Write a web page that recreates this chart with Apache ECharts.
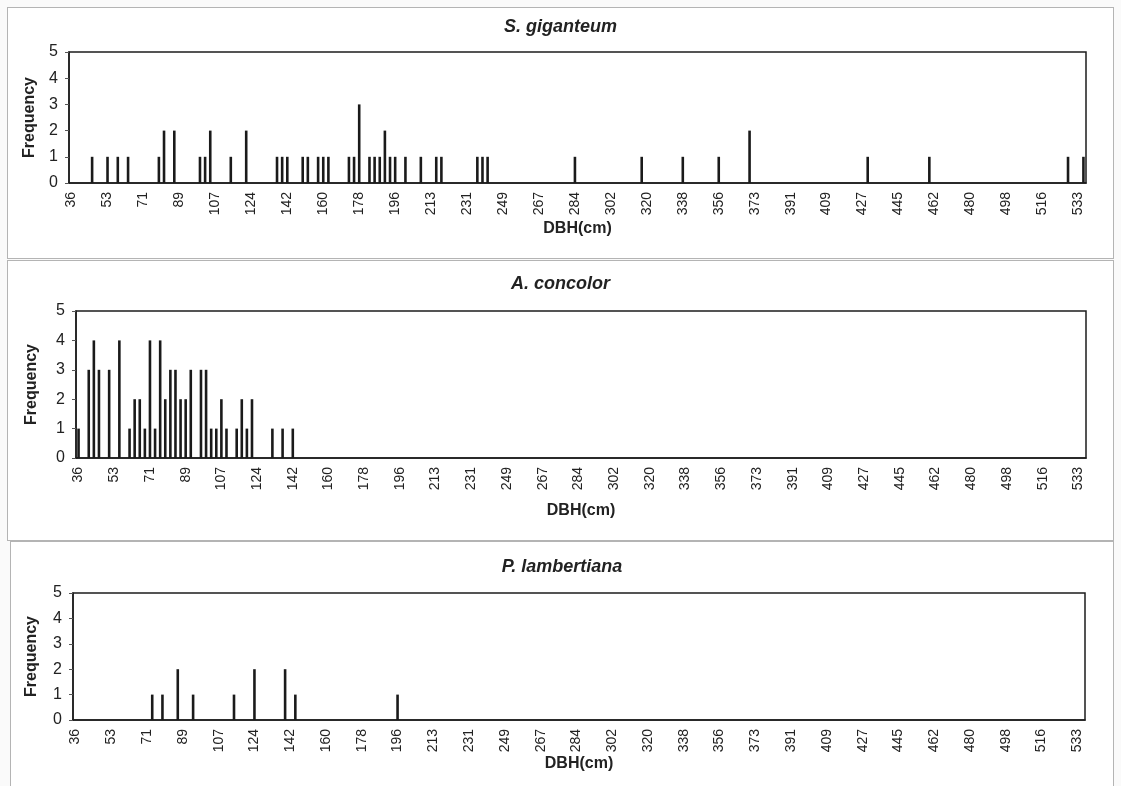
<!DOCTYPE html>
<html>
<head>
<meta charset="utf-8">
<script src="https://cdn.jsdelivr.net/npm/echarts/dist/echarts.min.js"></script>
<style>
  html, body { margin: 0; padding: 0; background: #fafafa; }
  body { width: 1121px; height: 786px; position: relative; overflow: hidden; }
  .panel { position: absolute; background: #fff; border: 1px solid #b4b4b4; box-sizing: border-box; }
</style>
</head>
<body>
<div id="p1" class="panel" style="left:7px;top:7px;width:1107px;height:252px;"></div>
<div id="p2" class="panel" style="left:7px;top:260px;width:1107px;height:281px;"></div>
<div id="p3" class="panel" style="left:10px;top:541px;width:1104px;height:250px;"></div>
<script>
// DBH classes are whole inches, shown in cm on the axis
var inchFrom = 14;
var inchTo = 211;
var dbhCats = [];
for (var i = inchFrom; i <= inchTo; i++) {
  dbhCats.push(String(Math.round(i * 254 / 100)));
}

// S. giganteum
var sgDbh  = [46, 53, 58, 64, 79, 81, 86, 99, 102, 104, 114, 122, 137, 140, 142, 150, 152, 157, 160, 163,
              173, 175, 178, 183, 185, 188, 191, 193, 196, 201, 208, 216, 218, 236, 239, 241, 284, 318, 338,
              356, 371, 429, 460, 528, 536];
var sgFreq = [1, 1, 1, 1, 1, 2, 2, 1, 1, 2, 1, 2, 1, 1, 1, 1, 1, 1, 1, 1,
              1, 1, 3, 1, 1, 1, 2, 1, 1, 1, 1, 1, 1, 1, 1, 1, 1, 1, 1,
              1, 2, 1, 1, 1, 1];

// A. concolor
var acDbh  = [36, 41, 43, 46, 51, 56, 61, 64, 66, 69, 71, 74, 76, 79, 81, 84, 86, 89, 91, 97, 99, 102,
              104, 107, 109, 114, 117, 119, 122, 132, 137, 142];
var acFreq = [1, 3, 4, 3, 3, 4, 1, 2, 2, 1, 4, 1, 4, 2, 3, 3, 2, 2, 3, 3, 3, 1,
              1, 2, 1, 1, 2, 1, 2, 1, 1, 1];

// P. lambertiana
var plDbh  = [74, 79, 86, 94, 114, 124, 140, 145, 196];
var plFreq = [1, 1, 2, 1, 1, 2, 2, 1, 1];

var yTicks = [0, 1, 2, 3, 4, 5];

function toSeries(dbh, freq) {
  return dbhCats.map(function (c) {
    var idx = dbh.indexOf(Number(c));
    return idx >= 0 ? freq[idx] : 0;
  });
}

var font = "'Liberation Sans', Arial, sans-serif";

function buildOption(cfg) {
  return {
    animation: false,
    title: {
      text: cfg.title,
      left: 'center',
      top: cfg.titleTop,
      textStyle: { fontFamily: font, fontSize: 18, fontWeight: 'bold', fontStyle: 'italic', color: '#222' }
    },
    grid: {
      left: cfg.left, top: cfg.top, width: cfg.width, height: cfg.height,
      show: true, borderColor: '#1c1c1c', borderWidth: 1.5, backgroundColor: '#fff'
    },
    xAxis: [{
      type: 'category',
      data: dbhCats,
      name: 'DBH(cm)',
      nameLocation: 'middle',
      nameGap: cfg.xNameGap,
      nameMoveOverlap: false,
      nameTextStyle: { fontFamily: font, fontSize: 16, fontWeight: 'bold', color: '#222' },
      axisLine: { lineStyle: { color: '#1c1c1c', width: 1.5 } },
      axisTick: { interval: 0, length: 3, lineStyle: { color: '#777' } },
      axisLabel: { interval: 6, rotate: 90, margin: 9, fontFamily: font, fontSize: 14, color: '#222' }
    }, {
      // inner half of the cross tick marks
      type: 'category',
      data: dbhCats,
      position: 'bottom',
      axisLine: { show: false },
      axisTick: { inside: true, interval: 0, length: 3, lineStyle: { color: '#777' } },
      axisLabel: { show: false }
    }],
    yAxis: {
      type: 'value',
      min: yTicks[0],
      max: yTicks[yTicks.length - 1],
      interval: 1,
      name: 'Frequency',
      nameLocation: 'middle',
      nameGap: cfg.yNameGap,
      nameTextStyle: { fontFamily: font, fontSize: 16, fontWeight: 'bold', color: '#222' },
      axisLine: { show: true, lineStyle: { color: '#1c1c1c', width: 1.5 } },
      axisTick: { show: true, length: 4, lineStyle: { color: '#555' } },
      axisLabel: { margin: 11, fontFamily: font, fontSize: 16, color: '#222' },
      splitLine: { show: false }
    },
    series: [{
      type: 'bar',
      xAxisIndex: 0,
      data: toSeries(cfg.dbh, cfg.freq),
      barWidth: 2.6,
      itemStyle: { color: '#1a1a1a' }
    }]
  };
}

var c1 = echarts.init(document.getElementById('p1'));
c1.setOption(buildOption({
  title: 'S. giganteum', titleTop: 5,
  left: 61, top: 44, width: 1017, height: 131,
  xNameGap: 38, yNameGap: 31,
  dbh: sgDbh, freq: sgFreq
}));

var c2 = echarts.init(document.getElementById('p2'));
c2.setOption(buildOption({
  title: 'A. concolor', titleTop: 9,
  left: 68, top: 50, width: 1010, height: 147,
  xNameGap: 45, yNameGap: 36,
  dbh: acDbh, freq: acFreq
}));

var c3 = echarts.init(document.getElementById('p3'));
c3.setOption(buildOption({
  title: 'P. lambertiana', titleTop: 11,
  left: 62, top: 51, width: 1012, height: 127,
  xNameGap: 36, yNameGap: 33,
  dbh: plDbh, freq: plFreq
}));
</script>
</body>
</html>
